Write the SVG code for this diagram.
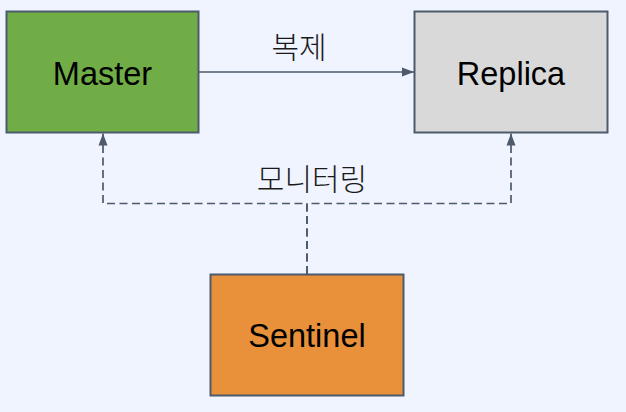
<svg xmlns="http://www.w3.org/2000/svg" width="626" height="412" viewBox="0 0 626 412">
  <style>
    .box { stroke: #4d5a6c; stroke-width: 2; }
    .lbl { font-family: "Liberation Sans", Arial, sans-serif; font-size: 32.5px; fill: #000; text-anchor: middle; }
    .kor { font-family: "Noto Sans CJK KR", "Noto Sans", sans-serif; font-size: 30px; font-weight: 300; fill: #1a1a1a; text-anchor: middle; }
    .conn { fill: none; stroke: #4d5a6c; stroke-width: 1.7; }
    .dash { stroke-dasharray: 8 4.5; }
  </style>
  <defs>
    <marker id="arrow" markerUnits="userSpaceOnUse" markerWidth="13" markerHeight="11" refX="12" refY="5.5" orient="auto">
      <path d="M0,1 L12,5.5 L0,10 Z" fill="#4d5a6c"/>
    </marker>
  </defs>
  <rect width="626" height="412" fill="#f0f4fe"/>
  <g id="connectors">
    <path id="replication" class="conn" d="M199 72 H414" marker-end="url(#arrow)"/>
    <path id="monitor-master" class="conn dash" d="M307 274 V203.5 H103 V133.5" marker-end="url(#arrow)"/>
    <path id="monitor-replica" class="conn dash" d="M307 274 V203.5 H511 V133.5" marker-end="url(#arrow)"/>
    <text class="kor" x="299" y="57.5">복제</text>
    <text class="kor" x="312" y="190">모니터링</text>
  </g>
  <g id="master">
    <rect class="box" x="6.5" y="11.5" width="192" height="121" fill="#70ad47"/>
    <text class="lbl" x="102.5" y="84.5">Master</text>
  </g>
  <g id="replica">
    <rect class="box" x="414.5" y="11.5" width="193" height="121" fill="#d9d9d9"/>
    <text class="lbl" x="511" y="84.5">Replica</text>
  </g>
  <g id="sentinel">
    <rect class="box" x="210.5" y="274.5" width="193" height="121" fill="#e8913a"/>
    <text class="lbl" x="307" y="346.5">Sentinel</text>
  </g>
</svg>
